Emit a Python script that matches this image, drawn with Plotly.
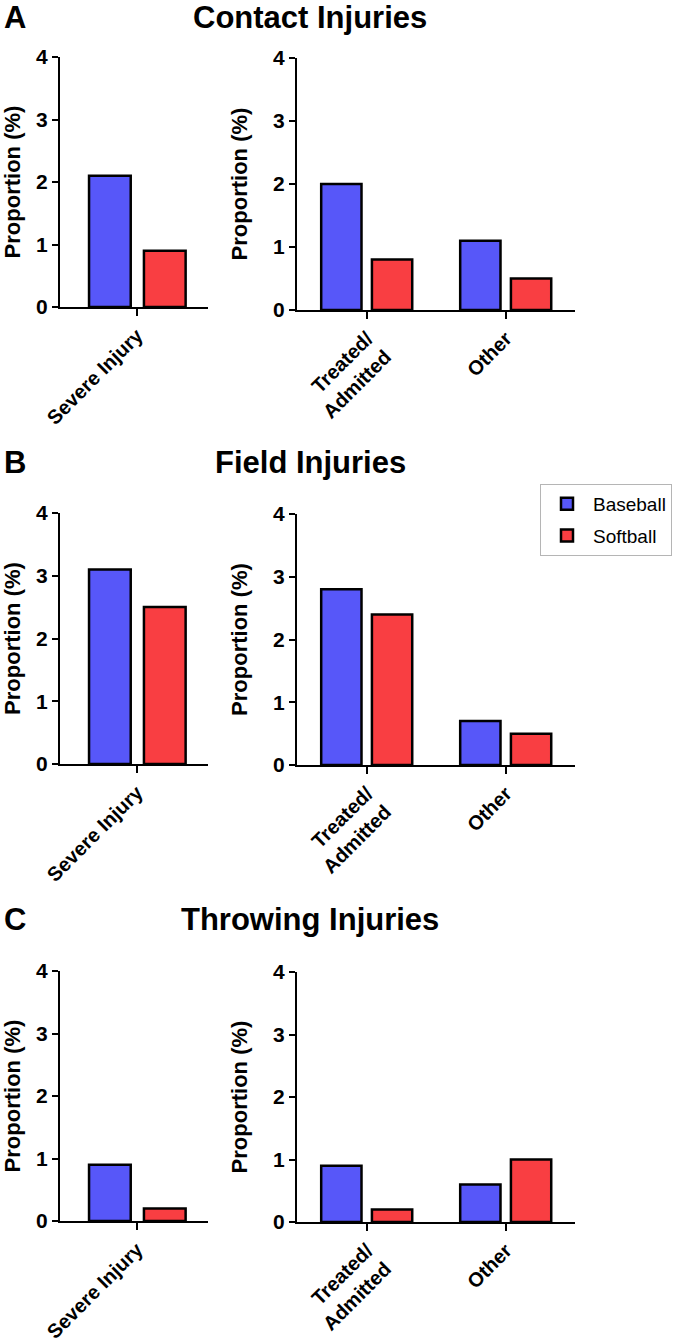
import plotly.graph_objects as go

# ---------------- data ----------------
severe_categories = ["Severe Injury"]
care_categories = ["Treated/Admitted", "Other"]
severe_ticktext = ["Severe Injury"]
care_ticktext = ["Treated/<br>Admitted", "Other"]

panel_titles = ["Contact Injuries", "Field Injuries", "Throwing Injuries"]
panel_letters = ["A", "B", "C"]
series_names = ["Baseball", "Softball"]

severe_baseball = [2.1, 3.1, 0.9]
severe_softball = [0.9, 2.5, 0.2]
care_baseball = [[2.0, 1.1], [2.8, 0.7], [0.9, 0.6]]
care_softball = [[0.8, 0.5], [2.4, 0.5], [0.2, 1.0]]

y_tickvals = [0, 1, 2, 3, 4]
y_title = "Proportion (%)"

# ---------------- styling / layout ----------------
W, H = 674, 1344
FONT = "Arial, Liberation Sans, Helvetica, sans-serif"
BLUE = "#5757F9"
RED = "#F93E42"
colors = [BLUE, RED]

# pixel geometry (zero line y, top y) per row
left_rows = [(307, 57), (764, 513), (1221, 971)]
right_rows = [(310, 58), (765, 514), (1222, 972)]
left_x = (60, 208)
right_x = (297, 575)
title_y = [17, 462, 919]
title_x = 310

def ydom(zero, top):
    return [1 - zero / H, 1 - top / H]

def xdom(a, b):
    return [a / W, b / W]

fig = go.Figure()
layout = dict(
    width=W, height=H,
    margin=dict(l=0, r=0, t=0, b=0, autoexpand=False),
    paper_bgcolor="white", plot_bgcolor="white",
    barmode="overlay",
    font=dict(family=FONT, color="black"),
    showlegend=True,
    legend=dict(
        x=540 / W, y=1 - 484 / H, xanchor="left", yanchor="top",
        bordercolor="#B5B5B5", borderwidth=1, bgcolor="white",
        font=dict(family=FONT, size=19, color="black"),
        tracegroupgap=4, itemwidth=42,
    ),
)

annotations = []

def yaxis_cfg(domain, anchor):
    return dict(
        domain=domain, anchor=anchor, range=[0, 4], automargin=False,
        tickvals=y_tickvals, ticks="outside", ticklen=6, tickwidth=2,
        tickcolor="black", showline=True, linecolor="black", linewidth=2,
        showgrid=False, zeroline=False,
        tickfont=dict(family=FONT, size=21, color="black", weight="bold"),
        title=dict(text=y_title, standoff=19,
                   font=dict(family=FONT, size=22, color="black", weight="bold")),
    )

def xaxis_cfg(domain, anchor, cats, ticktext, rng):
    return dict(
        domain=domain, anchor=anchor, type="category", automargin=False,
        categoryorder="array", categoryarray=cats,
        tickvals=cats, ticktext=ticktext, range=rng,
        ticks="outside", ticklen=7, tickwidth=2, tickcolor="black",
        showline=True, linecolor="black", linewidth=2,
        showgrid=False, zeroline=False, tickangle=-45,
        tickfont=dict(family=FONT, size=20, color="black", weight="bold"),
    )

ax = 1
for r in range(3):
    # left panel: severe injury
    xa, ya = f"x{ax}", f"y{ax}"
    key = "" if ax == 1 else str(ax)
    vals = [severe_baseball[r], severe_softball[r]]
    for s in range(2):
        fig.add_trace(go.Bar(
            x=severe_categories, y=[vals[s]], xaxis=xa, yaxis=ya,
            name=series_names[s], legendgroup=series_names[s],
            showlegend=(r == 0),
            width=0.30, offset=(-0.345 if s == 0 else 0.05),
            marker=dict(color=colors[s], line=dict(color="black", width=2.5)),
        ))
    zero, top = left_rows[r]
    layout["xaxis" + key] = xaxis_cfg(xdom(*left_x), ya, severe_categories,
                                      severe_ticktext, [-0.554, 0.511])
    layout["yaxis" + key] = yaxis_cfg(ydom(zero, top), xa)
    ax += 1

    # right panel: treated / other
    xa, ya = f"x{ax}", f"y{ax}"
    key = str(ax)
    series = [care_baseball[r], care_softball[r]]
    for s in range(2):
        fig.add_trace(go.Bar(
            x=care_categories, y=series[s], xaxis=xa, yaxis=ya,
            name=series_names[s], legendgroup=series_names[s],
            showlegend=False,
            width=0.29, offset=(-0.33 if s == 0 else 0.035),
            marker=dict(color=colors[s], line=dict(color="black", width=2.5)),
        ))
    zero, top = right_rows[r]
    layout["xaxis" + key] = xaxis_cfg(xdom(*right_x), ya, care_categories,
                                      care_ticktext, [-0.504, 1.496])
    layout["yaxis" + key] = yaxis_cfg(ydom(zero, top), xa)
    ax += 1

    annotations.append(dict(
        text=panel_titles[r], x=title_x / W, y=1 - title_y[r] / H,
        xref="paper", yref="paper", xanchor="center", yanchor="middle",
        showarrow=False, font=dict(family=FONT, size=31, color="black", weight="bold"),
    ))
    annotations.append(dict(
        text=panel_letters[r], x=2 / W, y=1 - title_y[r] / H,
        xref="paper", yref="paper", xanchor="left", yanchor="middle",
        showarrow=False, font=dict(family=FONT, size=31, color="black", weight="bold"),
    ))

layout["annotations"] = annotations
fig.update_layout(**layout)
fig.write_html("out.html", config={"displayModeBar": False},
               post_script="document.body.style.margin='0';")
